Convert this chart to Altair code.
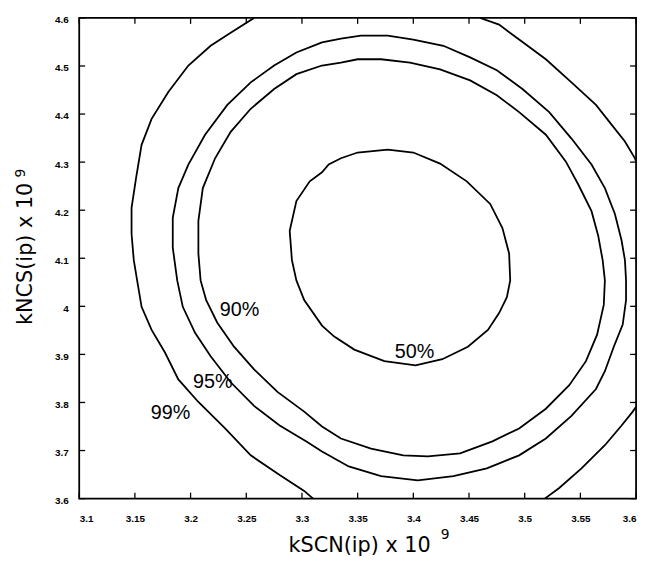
import altair as alt
import pandas as pd

# ---- contour traces (kSCN, kNCS) ----
c50_x = [3.377, 3.400, 3.424, 3.448, 3.469, 3.480, 3.486, 3.487, 3.484, 3.477, 3.467, 3.449, 3.426,
         3.402, 3.374, 3.347, 3.329, 3.318, 3.302, 3.295, 3.291, 3.289, 3.295, 3.307, 3.318, 3.324,
         3.335, 3.350, 3.377]
c50_y = [4.326, 4.320, 4.297, 4.260, 4.213, 4.163, 4.110, 4.054, 4.019, 3.986, 3.951, 3.916, 3.890,
         3.877, 3.886, 3.910, 3.937, 3.960, 4.013, 4.054, 4.096, 4.157, 4.219, 4.260, 4.279, 4.295,
         4.308, 4.320, 4.326]

c90_x = [3.318, 3.335, 3.350, 3.371, 3.397, 3.424, 3.451, 3.475, 3.495, 3.519, 3.537, 3.548, 3.560,
         3.566, 3.570, 3.572, 3.571, 3.565, 3.555, 3.540, 3.519, 3.495, 3.471, 3.442, 3.413, 3.391,
         3.362, 3.335, 3.318, 3.302, 3.278, 3.257, 3.239, 3.224, 3.214, 3.209, 3.207, 3.207, 3.211,
         3.222, 3.236, 3.254, 3.275, 3.295, 3.318]
c90_y = [4.501, 4.507, 4.514, 4.514, 4.507, 4.493, 4.470, 4.439, 4.404, 4.357, 4.301, 4.254, 4.198,
         4.147, 4.096, 4.054, 4.003, 3.941, 3.886, 3.836, 3.787, 3.746, 3.719, 3.694, 3.688, 3.690,
         3.704, 3.725, 3.750, 3.781, 3.822, 3.869, 3.916, 3.966, 4.013, 4.054, 4.110, 4.178, 4.246,
         4.308, 4.363, 4.411, 4.452, 4.483, 4.501]

c95_x = [3.318, 3.335, 3.353, 3.377, 3.400, 3.427, 3.451, 3.475, 3.498, 3.522, 3.542, 3.560, 3.572,
         3.581, 3.587, 3.590, 3.591, 3.591, 3.588, 3.580, 3.572, 3.564, 3.542, 3.519, 3.495, 3.466,
         3.436, 3.404, 3.371, 3.342, 3.318, 3.304, 3.280, 3.257, 3.236, 3.218, 3.204, 3.193, 3.188,
         3.184, 3.184, 3.189, 3.198, 3.213, 3.233, 3.254, 3.275, 3.295, 3.318]
c95_y = [4.549, 4.557, 4.563, 4.563, 4.555, 4.542, 4.518, 4.491, 4.452, 4.404, 4.349, 4.295, 4.246,
         4.192, 4.137, 4.096, 4.054, 4.013, 3.962, 3.916, 3.865, 3.828, 3.772, 3.725, 3.690, 3.663,
         3.647, 3.638, 3.647, 3.667, 3.698, 3.719, 3.752, 3.793, 3.842, 3.896, 3.945, 3.999, 4.054,
         4.122, 4.184, 4.246, 4.295, 4.357, 4.419, 4.466, 4.501, 4.528, 4.549]

# 99% contour leaves the plot, so it shows as three pieces
c99a_x = [3.257, 3.236, 3.218, 3.198, 3.180, 3.165, 3.156, 3.151, 3.147, 3.147, 3.149, 3.152, 3.156,
          3.165, 3.177, 3.189, 3.207, 3.231, 3.254, 3.280, 3.302, 3.310]
c99a_y = [4.600, 4.569, 4.542, 4.501, 4.446, 4.390, 4.336, 4.266, 4.205, 4.151, 4.096, 4.054, 3.999,
          3.951, 3.904, 3.848, 3.801, 3.746, 3.690, 3.649, 3.616, 3.600]
c99b_x = [3.518, 3.531, 3.551, 3.572, 3.587, 3.597, 3.600]
c99b_y = [3.600, 3.622, 3.663, 3.711, 3.752, 3.781, 3.791]
c99c_x = [3.460, 3.477, 3.495, 3.519, 3.542, 3.564, 3.578, 3.590, 3.599, 3.600]
c99c_y = [4.600, 4.586, 4.555, 4.514, 4.466, 4.419, 4.378, 4.343, 4.308, 4.301]

label_text = ["50%", "90%", "95%", "99%"]
label_x = [3.401, 3.244, 3.220, 3.182]
label_y = [3.904, 3.993, 3.843, 3.777]

x_ticks = [3.1, 3.15, 3.2, 3.25, 3.3, 3.35, 3.4, 3.45, 3.5, 3.55, 3.6]
y_ticks = [3.6, 3.7, 3.8, 3.9, 4.0, 4.1, 4.2, 4.3, 4.4, 4.5, 4.6]

x_title = "kSCN(ip) x 10"
y_title = "kNCS(ip) x 10"
exponent = ["9"]

# ---- build tables ----
rows = []
for name, xs_, ys_ in [("50", c50_x, c50_y), ("90", c90_x, c90_y), ("95", c95_x, c95_y),
                       ("99a", c99a_x, c99a_y), ("99b", c99b_x, c99b_y), ("99c", c99c_x, c99c_y)]:
    for i, (a, b) in enumerate(zip(xs_, ys_)):
        rows.append({"seg": name, "idx": i, "x": a, "y": b})
df = pd.DataFrame(rows)
lab = pd.DataFrame({"t": label_text, "x": label_x, "y": label_y})
xt = pd.DataFrame({"v": x_ticks})
yt = pd.DataFrame({"v": y_ticks})
exp_df = pd.DataFrame({"t": exponent})

W, H = 563, 486
xs = alt.Scale(domain=[3.1, 3.6], zero=False, nice=False)
ys = alt.Scale(domain=[3.6, 4.6], zero=False, nice=False)

xaxis = alt.Axis(values=x_ticks, format="~g", ticks=False, domain=False, grid=False,
                 labelFont="Liberation Sans", labelFontSize=10, labelFontWeight="bold",
                 labelColor="black", labelPadding=15,
                 title=x_title, titleFont="DejaVu Sans", titleFontSize=21,
                 titleFontWeight="normal", titleColor="black",
                 titleX=283, titleY=53, titleAlign="center", titleBaseline="alphabetic")
yaxis = alt.Axis(values=y_ticks, format="~g", ticks=False, domain=False, grid=False,
                 labelFont="Liberation Sans", labelFontSize=10, labelFontWeight="bold",
                 labelColor="black", labelPadding=11, labelOffset=2,
                 title=y_title, titleFont="DejaVu Sans", titleFontSize=21,
                 titleFontWeight="normal", titleColor="black", titleAngle=270,
                 titleX=-48, titleY=238, titleAlign="center", titleBaseline="alphabetic")

lines = alt.Chart(df).mark_line(color="black", strokeWidth=1.8, clip=True).encode(
    x=alt.X("x:Q", scale=xs, axis=xaxis),
    y=alt.Y("y:Q", scale=ys, axis=yaxis),
    detail="seg:N",
    order="idx:Q",
)

texts = alt.Chart(lab).mark_text(font="Liberation Sans", fontSize=20, color="black",
                                 align="center", baseline="middle").encode(
    x=alt.X("x:Q", scale=xs), y=alt.Y("y:Q", scale=ys), text="t:N")

# raised exponent "9" of the two axis titles
exp_x = alt.Chart(exp_df).mark_text(font="DejaVu Sans", fontSize=14, color="black",
                                    align="center", baseline="alphabetic").encode(
    text="t:N", x=alt.value(370), y=alt.value(527))
exp_y = alt.Chart(exp_df).mark_text(font="DejaVu Sans", fontSize=14, color="black",
                                    align="center", baseline="alphabetic", angle=270).encode(
    text="t:N", x=alt.value(-55), y=alt.value(157))

TL = 6
tick_b = alt.Chart(xt).mark_rule(color="black", strokeWidth=1.3).encode(
    x=alt.X("v:Q", scale=xs), y=alt.value(H), y2=alt.value(H - TL))
tick_t = alt.Chart(xt).mark_rule(color="black", strokeWidth=1.3).encode(
    x=alt.X("v:Q", scale=xs), y=alt.value(0), y2=alt.value(TL))
tick_l = alt.Chart(yt).mark_rule(color="black", strokeWidth=1.3).encode(
    y=alt.Y("v:Q", scale=ys), x=alt.value(0), x2=alt.value(TL))
tick_r = alt.Chart(yt).mark_rule(color="black", strokeWidth=1.3).encode(
    y=alt.Y("v:Q", scale=ys), x=alt.value(W), x2=alt.value(W - TL))

chart = alt.layer(lines, texts, exp_x, exp_y, tick_b, tick_t, tick_l, tick_r).properties(
    width=W, height=H,
    autosize=alt.AutoSizeParams(type="none"),
    padding={"left": 72, "top": 7, "right": 6, "bottom": 56},
    background="white",
).configure_view(stroke="black", strokeWidth=1.8)

chart.save("out.html", embed_options={"renderer": "svg", "actions": False})
